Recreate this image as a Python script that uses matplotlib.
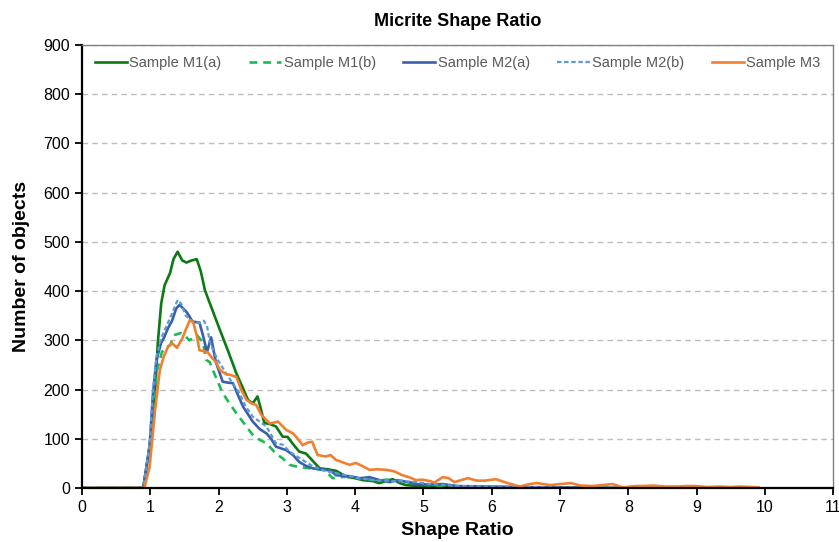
import numpy as np
import matplotlib
matplotlib.use("Agg")
import matplotlib.pyplot as plt

# --- data ---
m1a_x = [0, 0.88, 0.90, 0.99, 1.07, 1.11, 1.16, 1.21, 1.29, 1.34, 1.40, 1.47, 1.53, 1.60,
         1.68, 1.74, 1.80, 1.90, 2.02, 2.14, 2.26, 2.35, 2.43, 2.50, 2.57, 2.62, 2.67, 2.75,
         2.84, 2.94, 3.01, 3.08, 3.18, 3.28, 3.38, 3.48, 3.60, 3.72, 3.87, 4.00, 4.11, 4.26,
         4.35, 4.45, 4.55, 4.65, 4.74, 4.90, 5.05, 5.2, 5.5, 6.0, 6.5, 7.0, 7.5, 8.0, 9.0, 9.9]
m1a_y = [0, 0, 3, 84, 193, 294, 375, 412, 437, 465, 480, 462, 458, 462,
         465, 440, 402, 365, 321, 278, 233, 205, 179, 172, 186, 160, 132, 130,
         125, 104, 104, 91, 74, 70, 55, 40, 38, 35, 23, 20, 16, 14,
         10, 14, 18, 10, 6, 4, 3, 2, 2, 1, 1, 1, 0, 0, 0, 0]

m1b_x = [0, 0.88, 0.90, 0.99, 1.05, 1.10, 1.17, 1.21, 1.29, 1.36, 1.45, 1.50, 1.57, 1.62,
         1.68, 1.77, 1.82, 1.87, 1.96, 2.06, 2.16, 2.26, 2.38, 2.50, 2.60, 2.70, 2.84, 2.94,
         3.04, 3.13, 3.23, 3.33, 3.45, 3.52, 3.60, 3.67, 3.77, 3.87, 4.01, 4.11, 4.21, 4.35,
         4.45, 4.58, 4.70, 4.80, 4.89, 5.05, 5.2, 5.5, 6.0, 6.5, 7.0, 8.0, 9.9]
m1b_y = [0, 0, 3, 84, 170, 240, 276, 284, 290, 311, 315, 311, 300, 304,
         311, 296, 260, 256, 225, 193, 172, 152, 130, 108, 98, 91, 70, 60,
         47, 44, 42, 40, 38, 37, 30, 20, 22, 23, 20, 19, 17, 15,
         17, 16, 14, 12, 10, 6, 4, 2, 1, 1, 0, 0, 0]

m2a_x = [0, 0.88, 0.90, 0.99, 1.04, 1.09, 1.16, 1.20, 1.26, 1.32, 1.38, 1.43, 1.48, 1.54,
         1.62, 1.72, 1.77, 1.83, 1.89, 1.96, 2.06, 2.14, 2.21, 2.28, 2.36, 2.43, 2.50, 2.60,
         2.70, 2.77, 2.84, 2.99, 3.09, 3.18, 3.28, 3.38, 3.50, 3.57, 3.65, 3.72, 3.82, 3.92,
         4.07, 4.21, 4.36, 4.50, 4.60, 4.70, 4.89, 5.08, 5.28, 5.5, 6.0, 6.5, 7.0, 8.0, 9.9]
m2a_y = [0, 0, 3, 84, 192, 260, 295, 305, 325, 340, 365, 372, 365, 356,
         338, 336, 311, 276, 306, 256, 216, 214, 213, 190, 165, 150, 135, 120,
         111, 100, 84, 77, 67, 53, 45, 40, 38, 37, 35, 26, 25, 24,
         20, 22, 16, 12, 15, 14, 8, 7, 8, 4, 3, 2, 1, 0, 0]

m2b_x = [0, 0.88, 0.90, 0.99, 1.04, 1.09, 1.16, 1.24, 1.32, 1.40, 1.45, 1.52, 1.60, 1.66,
         1.72, 1.78, 1.83, 1.87, 1.92, 1.99, 2.11, 2.21, 2.31, 2.40, 2.50, 2.60, 2.70, 2.84,
         2.94, 3.04, 3.14, 3.23, 3.38, 3.55, 3.72, 3.90, 4.05, 4.21, 4.40, 4.55, 4.70, 4.89,
         5.1, 5.3, 5.5, 6.0, 6.5, 7.0, 8.0, 9.9]
m2b_y = [0, 0, 3, 90, 200, 265, 305, 330, 355, 382, 375, 350, 340, 338,
         335, 340, 330, 297, 280, 260, 233, 212, 192, 165, 145, 135, 125, 91,
         88, 74, 65, 57, 44, 35, 30, 25, 20, 17, 15, 14, 14, 12,
         8, 6, 4, 3, 2, 1, 0, 0]

m3_x = [0, 0.90, 0.92, 0.99, 1.07, 1.14, 1.20, 1.26, 1.32, 1.39, 1.47, 1.52, 1.58, 1.63,
        1.68, 1.72, 1.78, 1.84, 1.90, 1.96, 2.02, 2.10, 2.16, 2.26, 2.33, 2.41, 2.48, 2.55,
        2.62, 2.70, 2.75, 2.87, 2.99, 3.09, 3.16, 3.23, 3.30, 3.37, 3.45, 3.57, 3.64, 3.72,
        3.82, 3.92, 4.01, 4.10, 4.21, 4.33, 4.45, 4.57, 4.69, 4.79, 4.89, 4.98, 5.10, 5.16,
        5.28, 5.37, 5.45, 5.55, 5.65, 5.78, 5.90, 6.06, 6.21, 6.41, 6.55, 6.66, 6.86, 7.00,
        7.16, 7.30, 7.47, 7.62, 7.77, 7.92, 8.10, 8.22, 8.37, 8.55, 8.72, 8.85, 8.98, 9.15,
        9.33, 9.50, 9.63, 9.80, 9.90]
m3_y = [0, 0, 3, 43, 158, 240, 268, 287, 294, 285, 304, 322, 341, 336,
        310, 280, 278, 276, 265, 256, 240, 232, 230, 226, 200, 179, 172, 169,
        150, 138, 131, 135, 118, 111, 100, 87, 92, 94, 67, 64, 67, 57,
        52, 47, 51, 45, 37, 38, 37, 34, 26, 22, 16, 17, 14, 11,
        22, 20, 12, 16, 20, 15, 15, 18, 11, 3, 8, 10, 6, 8,
        10, 5, 4, 6, 8, 1, 4, 4, 5, 3, 3, 4, 4, 2,
        3, 2, 3, 2, 1]

labels = ['Sample M1(a)', 'Sample M1(b)', 'Sample M2(a)', 'Sample M2(b)', 'Sample M3']

sans = ['Liberation Sans', 'DejaVu Sans']
plt.rcParams['font.family'] = sans

fig = plt.figure(figsize=(8.39, 5.42), dpi=100)
ax = fig.add_axes([0.0977, 0.0996, 0.8955, 0.8174])

ax.plot(m1a_x, m1a_y, color='#0B7A12', lw=1.9, label=labels[0])
ax.plot(m1b_x, m1b_y, color='#1DB954', lw=1.9, ls=(0, (3, 2.2)), label=labels[1])
ax.plot(m2a_x, m2a_y, color='#3A5FAD', lw=1.9, label=labels[2])
ax.plot(m2b_x, m2b_y, color='#5B9BD5', lw=1.6, ls=(0, (2, 1.2)), label=labels[3])
ax.plot(m3_x, m3_y, color='#F08030', lw=1.9, label=labels[4])

ax.set_xlim(0, 11)
ax.set_ylim(0, 900)
ax.set_xticks(range(0, 12))
ax.set_yticks(range(0, 901, 100))
ax.yaxis.grid(True, ls=(0, (4, 3)), color='#BDBDBD', lw=1)
ax.set_axisbelow(True)

for s in ('top', 'right'):
    ax.spines[s].set_color('#808080')
    ax.spines[s].set_linewidth(1)
for s in ('left', 'bottom'):
    ax.spines[s].set_color('black')
    ax.spines[s].set_linewidth(1.6)
ax.tick_params(direction='out', length=5, width=1.3, labelsize=11.5)

ax.set_title('Micrite Shape Ratio', fontsize=13, fontweight='bold', pad=14)
ax.set_xlabel('Shape Ratio', fontsize=14, fontweight='bold', labelpad=5)
ax.set_ylabel('Number of objects', fontsize=14, fontweight='bold', labelpad=10)

leg = ax.legend(loc='upper center', bbox_to_anchor=(0.5, 1.005), ncol=5, frameon=False,
                fontsize=10.5, handlelength=2.2, handletextpad=0.15, columnspacing=1.9)
for t in leg.get_texts():
    t.set_color('#595959')

fig.savefig('out.png', dpi=100)
